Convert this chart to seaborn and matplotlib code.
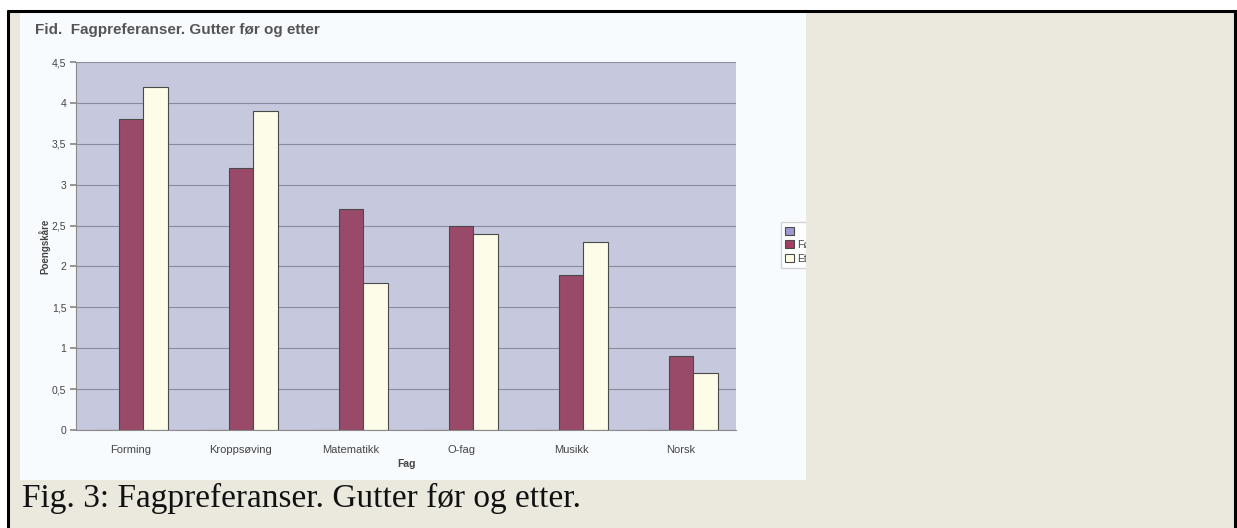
import pandas as pd
import matplotlib
matplotlib.use('Agg')
from matplotlib import pyplot as plt
from matplotlib.patches import Rectangle, Patch
import seaborn as sns

sns.set_theme(style = 'white')
plt.rcParams['font.family'] = ['Liberation Sans', 'DejaVu Sans']

#data
fag = ['Forming', 'Kroppsøving', 'Matematikk', 'O-fag', 'Musikk', 'Norsk']
serier = ['Serie1', 'Før', 'Etter']
tom = [0, 0, 0, 0, 0, 0]
for_verdier = [3.8, 3.2, 2.7, 2.5, 1.9, 0.9]
etter_verdier = [4.2, 3.9, 1.8, 2.4, 2.3, 0.7]
y_ticks = [0, 0.5, 1, 1.5, 2, 2.5, 3, 3.5, 4, 4.5]
y_ticklabels = ['0', '0,5', '1', '1,5', '2', '2,5', '3', '3,5', '4', '4,5']
legend_labels = ['', 'Før', 'Etter']

df = pd.DataFrame({
    'Fag': fag * 3,
    'Serie': [s for s in serier for _ in fag],
    'Poengskåre': tom + for_verdier + etter_verdier,
})

farger = {'Serie1': '#9A9ACF', 'Før': '#A63D65', 'Etter': '#FFFFE6'}

W, H = 1237, 528
fig = plt.figure(figsize = (W / 100, H / 100), dpi = 100, facecolor = 'white')

def rect(x0, y0, x1, y1, **kw):
    #pixel box (from top-left) -> figure fraction rectangle
    r = Rectangle((x0 / W, 1 - y1 / H), (x1 - x0) / W, (y1 - y0) / H,
                  transform = fig.transFigure, **kw)
    fig.add_artist(r)
    return r

#scanned page: beige cell with black frame, chart image pasted on top
rect(9, 11, 1235, H + 5, facecolor = '#EBE8DE', edgecolor = 'none', zorder = -3)
rect(20, 12, 806, 480, facecolor = '#F8FBFE', edgecolor = 'none', zorder = -2)

ax = fig.add_axes([76 / W, 1 - 430 / H, 660 / W, 368 / H])
sns.barplot(data = df, x = 'Fag', y = 'Poengskåre', hue = 'Serie', hue_order = serier,
            palette = farger, width = 0.68, gap = 0, edgecolor = '#4a4a4a', linewidth = 0.8,
            legend = False, ax = ax)

ax.set_facecolor('#C6C8DE')
ax.set_ylim(0, 4.5)
ax.set_xlim(-0.5, len(fag) - 0.5)
ax.set_yticks(y_ticks)
ax.set_yticklabels(y_ticklabels)
ax.yaxis.grid(True, color = '#8a8b9e', linewidth = 0.8)
ax.set_axisbelow(True)
for side in ['top', 'right']:
    ax.spines[side].set_visible(False)
for side in ['left', 'bottom']:
    ax.spines[side].set_color('#8a8a8a')
    ax.spines[side].set_linewidth(0.8)
ax.tick_params(axis = 'y', left = True, length = 4, color = '#8a8a8a', labelsize = 7.5, labelcolor = '#444444', pad = 3)
ax.tick_params(axis = 'x', bottom = False, labelsize = 8, labelcolor = '#444444', pad = 5)
ax.set_xlabel('Fag', fontsize = 7.5, fontweight = 'bold', color = '#444444', labelpad = 3)
ax.set_ylabel('Poengskåre', fontsize = 7, fontweight = 'bold', color = '#444444', labelpad = 1)

handles = [Patch(facecolor = farger[s], edgecolor = '#4a4a4a', linewidth = 0.8) for s in serier]
leg = fig.legend(handles, legend_labels, loc = 'upper left', bbox_to_anchor = (776 / W, 1 - 217 / H),
                 fontsize = 7.5, frameon = True, edgecolor = '#c8c8c8', fancybox = False,
                 handlelength = 0.8, handleheight = 0.8, handletextpad = 0.3, labelspacing = 0.35,
                 borderpad = 0.4, labelcolor = '#444444')
leg.set_zorder(4)

#the pasted picture is cut off on the right, over the legend
rect(806, 12, 1235, 480, facecolor = '#EBE8DE', edgecolor = 'none', zorder = 5)

fig.text(35 / W, 1 - 30 / H, 'Fid.  Fagpreferanser. Gutter før og etter', fontsize = 11,
         fontweight = 'bold', color = '#555555', va = 'center', ha = 'left')

fig.text(22 / W, 1 - 507 / H, 'Fig. 3: Fagpreferanser. Gutter før og etter.', fontsize = 24,
         family = ['Liberation Serif', 'DejaVu Serif'], color = '#111111', va = 'baseline', ha = 'left')

#black frame lines of the table cell
fig.add_artist(plt.Line2D([8 / W, 1236 / W], [1 - 11 / H, 1 - 11 / H], color = 'black', linewidth = 2.2, zorder = 6))
fig.add_artist(plt.Line2D([8 / W, 8 / W], [0, 1 - 11 / H], color = 'black', linewidth = 2.2, zorder = 6))
fig.add_artist(plt.Line2D([1235 / W, 1235 / W], [0, 1 - 11 / H], color = 'black', linewidth = 2.2, zorder = 6))

plt.savefig('out.png', dpi = 100)
